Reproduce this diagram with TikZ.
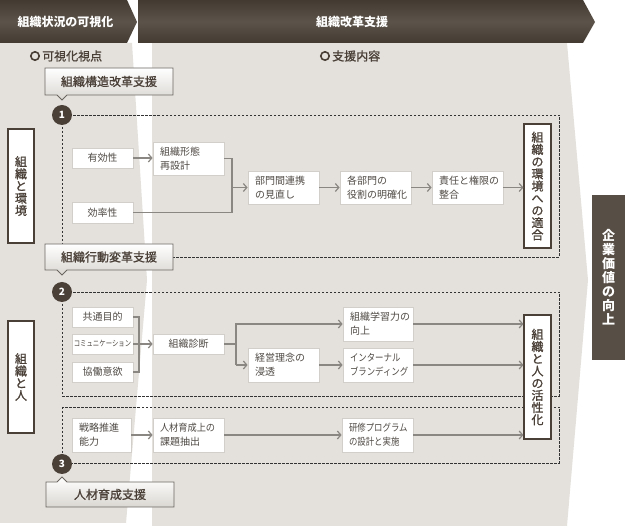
\documentclass[tikz,border=0pt]{standalone}
\usepackage{fontspec}
\usepackage{graphicx}
\setmainfont{Noto Sans CJK JP}
\newfontfamily\medfont{Noto Sans CJK JP}[FakeBold=1.2]
\usetikzlibrary{arrows.meta,calc}
\definecolor{hdr}{HTML}{433A32}
\definecolor{hdrmid}{HTML}{5C544B}
\definecolor{panel}{HTML}{E4E1DC}
\definecolor{dk}{HTML}{4A4038}
\definecolor{boxline}{HTML}{D2CEC9}
\definecolor{boxtext}{HTML}{4F4A45}
\definecolor{arrowc}{HTML}{8A8681}
\definecolor{kigyoc}{HTML}{574E45}
\definecolor{labline}{HTML}{6B6560}
\definecolor{labbot}{HTML}{DAD7D2}
\newcommand{\cond}[1]{\scalebox{0.84}[1]{#1}}
\begin{document}
\begin{tikzpicture}[x=1pt,y=-1pt,
  tb/.style={draw=boxline, fill=white, line width=0.8pt, text=boxtext, font=\fontsize{10}{14}\selectfont, inner sep=0pt},
  tbl/.style={tb, align=left, inner xsep=7pt},
  vb/.style={draw=dk, fill=white, line width=1.1pt, text=dk, font=\medfont\fontsize{12}{12.2}\selectfont, align=center, inner sep=0pt},
  arr/.style={draw=arrowc, line width=1.2pt, -{Straight Barb[length=3.5pt,width=8pt]}},
  ln/.style={draw=arrowc, line width=1.2pt},
  fr/.style={draw=black!80, line width=0.8pt, dash pattern=on 2.5pt off 1.5pt},
  num/.style={circle, fill=dk, text=white, minimum size=20pt, inner sep=0pt, font=\fontsize{10}{10}\selectfont\bfseries},
  lab/.style={draw=labline, line width=0.9pt, top color=white, bottom color=labbot},
  labt/.style={text=dk, font=\medfont\fontsize{12}{12}\selectfont, inner sep=0pt},
  hdrt/.style={text=white, font=\fontsize{12}{12}\selectfont\bfseries, inner sep=0pt},
  pt/.style={text=dk, font=\medfont\fontsize{12}{12}\selectfont, inner sep=0pt, anchor=west},
]
\useasboundingbox (0,0) rectangle (625,526);
\fill[white] (0,0) rectangle (625,526);
% panels
\fill[panel] (0,43) -- (132,43) -- (147,280) -- (126,523) -- (0,523) -- cycle;
\fill[panel] (152,43) -- (567,43) -- (588,280) -- (567,526) -- (152,526) -- cycle;
% headers
\shade[top color=hdr, bottom color=hdr, middle color=hdrmid] (0,0) -- (127,0) -- (137,22) -- (127,43) -- (0,43) -- cycle;
\shade[top color=hdr, bottom color=hdr, middle color=hdrmid] (138,0) -- (583,0) -- (595,22) -- (583,43) -- (138,43) -- cycle;
\node[hdrt] (h1) at (65.5,22) {組織状況の可視化};
\node[hdrt] (h2) at (352,22) {組織改革支援};
% sub-headings
\draw[dk, line width=1.6pt] (35,56) circle (4.2pt);
\node[pt] (p1) at (42,56) {可視化視点};
\draw[dk, line width=1.6pt] (325,56) circle (4.2pt);
\node[pt] (p2) at (332,56) {支援内容};
% dashed frames
\draw[fr] (62,115) rectangle (559,257);
\draw[fr] (62,292) rectangle (559,396);
\draw[fr] (62,407) rectangle (559,463);
% left boxes
\node[vb, minimum width=26pt, minimum height=114pt] (kankyo) at (21,186) {組\\織\\と\\環\\境};
\node[vb, minimum width=26pt, minimum height=112pt] (hito) at (21,377) {組\\織\\と\\人};
% row 1
\node[tb, minimum width=61pt, minimum height=20pt] (yuko) at (102.5,158) {有効性};
\node[tb, minimum width=61pt, minimum height=21pt] (kouritsu) at (102.5,212.5) {効率性};
\node[tbl, text width=57pt, minimum height=33pt] (keitai) at (188.5,158.5) {組織形態\\再設計};
\node[tbl, text width=57pt, minimum height=33pt] (bumon) at (283.5,187.5) {部門間連携\\の見直し};
\node[tbl, text width=57pt, minimum height=33pt] (yakuwari) at (375.5,187.5) {各部門の\\役割の明確化};
\node[tbl, text width=57pt, minimum height=33pt] (sekinin) at (467.5,187.5) {責任と権限の\\整合};
\node[vb, minimum width=27pt, minimum height=124pt] (tekigo) at (537.5,186) {組\\織\\の\\環\\境\\へ\\の\\適\\合};
\coordinate (j1) at (232,0);
\draw[arr] (yuko.east) -- (yuko.east -| keitai.west);
\draw[ln] (keitai.east) -| (j1 |- kouritsu.east) -- (kouritsu.east);
\draw[arr] (j1 |- bumon.west) -- (bumon.west);
\draw[arr] (bumon.east) -- (yakuwari.west);
\draw[arr] (yakuwari.east) -- (sekinin.west);
\draw[arr] (sekinin.east) -- (sekinin.east -| tekigo.west);
% row 2
\node[tb, minimum width=61pt, minimum height=20pt] (kyotsu) at (102.5,317) {共通目的};
\node[tb, minimum width=61pt, minimum height=20pt] (comm) at (102.5,344) {\scalebox{0.8}[1]{\fontsize{8}{8}\selectfont コミュニケーション}};
\node[tb, minimum width=61pt, minimum height=20pt] (kyodo) at (102.5,372) {協働意欲};
\node[tb, minimum width=71pt, minimum height=20pt] (shindan) at (188.5,344) {組織診断};
\node[tbl, text width=57pt, minimum height=34pt] (rinen) at (283.5,365) {経営理念の\\浸透};
\node[tbl, text width=56pt, minimum height=34pt] (gakushu) at (378,324) {組織学習力の\\向上};
\node[tbl, text width=56pt, minimum height=34pt] (internal) at (378,365) {\cond{インターナル}\\\cond{ブランディング}};
\node[vb, minimum width=27pt, minimum height=124pt] (kassei) at (537.5,377) {組\\織\\と\\人\\の\\活\\性\\化};
\coordinate (b2) at (139,0);
\coordinate (b3) at (236,0);
\draw[ln] (kyotsu.east) -| (b2 |- kyodo.east) -- (kyodo.east);
\draw[arr] (comm.east) -- (shindan.west);
\draw[ln] (shindan.east) -- (b3 |- shindan.east);
\draw[arr] (b3 |- rinen.west) |- (gakushu.west);
\draw[arr] (b3 |- rinen.west) -- (rinen.west);
\draw[arr] (rinen.east) -- (rinen.east -| internal.west);
\draw[arr] (gakushu.east) -- (gakushu.east -| kassei.west);
\draw[arr] (internal.east) -- (internal.east -| kassei.west);
% row 3
\node[tbl, text width=45pt, minimum height=34pt] (senryaku) at (101.5,435) {戦略推進\\能力};
\node[tbl, text width=57pt, minimum height=34pt] (kadai) at (188.5,435) {\scalebox{0.92}[1]{人材育成上の}\\課題抽出};
\node[tbl, text width=57pt, minimum height=34pt] (kenshu) at (377.5,435) {\cond{研修プログラム}\\\cond{の設計と実施}};
\draw[arr] (senryaku.east) -- (kadai.west);
\draw[arr] (kadai.east) -- (kenshu.west);
\draw[arr] (kenshu.east) -- (kenshu.east -| kassei.west);
% result box
\node[fill=kigyoc, text=white, minimum width=33pt, minimum height=165pt, inner sep=0pt, align=center, font=\fontsize{13}{14}\selectfont\bfseries] (kigyo) at (608.5,277.5) {企\\業\\価\\値\\の\\向\\上};
% labels
\path[lab] (45,68) -- (173,68) -- (173,95) -- (67,95) -- (62,100) -- (57,95) -- (45,95) -- cycle;
\node[labt] (lab1) at (109,81.5) {組織構造改革支援};
\path[lab] (45,244) -- (173,244) -- (173,270) -- (67,270) -- (62,275) -- (57,270) -- (45,270) -- cycle;
\node[labt] (lab2) at (109,257) {組織行動変革支援};
\path[lab] (46,482) -- (57,482) -- (62,477) -- (67,482) -- (174,482) -- (174,507) -- (46,507) -- cycle;
\node[labt] (lab3) at (110,494.5) {人材育成支援};
% numbers
\node[num] (n1) at (62,115) {1};
\node[num] (n2) at (62,292) {2};
\node[num] (n3) at (62,464) {3};
\end{tikzpicture}
\end{document}
